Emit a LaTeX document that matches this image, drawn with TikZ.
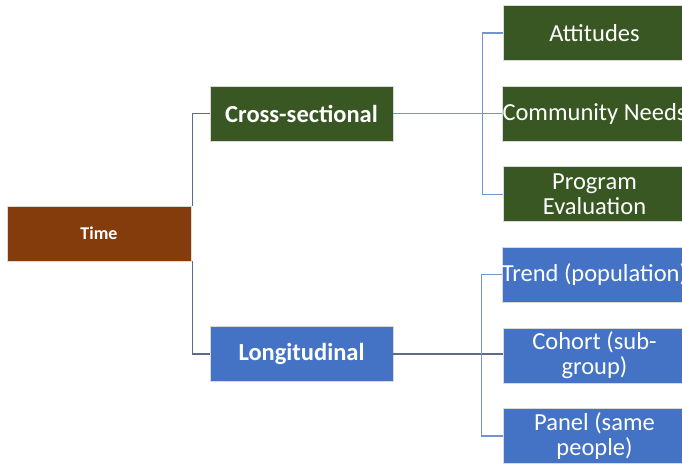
\documentclass[tikz,border=0pt]{standalone}
\usepackage{fontspec}
\setmainfont{Carlito}
\usetikzlibrary{positioning}
\definecolor{timebrown}{HTML}{843C0C}
\definecolor{crossgreen}{HTML}{385723}
\definecolor{longblue}{HTML}{4472C4}
\definecolor{linegrey}{HTML}{5C6B86}
\definecolor{lineblue}{HTML}{7394CF}

\begin{document}
\begin{tikzpicture}[x=1pt, y=-1pt]
      \tikzstyle{base}=[rectangle, inner sep=0pt, minimum height=55pt, text=white, draw=white!85!black, line width=0.6pt, align=center]
      \tikzstyle{root}=[base, fill=timebrown, minimum width=184pt, font=\fontsize{18}{20}\selectfont\bfseries]
      \tikzstyle{branch}=[base, minimum width=183pt, font=\fontsize{24.5}{27}\selectfont\bfseries]
      \tikzstyle{leaf}=[base, minimum width=183pt, font=\fontsize{24.5}{25}\selectfont, node distance=25pt]
      \tikzstyle{connect}=[line width=1.2pt]

      \useasboundingbox (0,0) rectangle (682,463);
      \clip (0,0) rectangle (682,463);

      \node[root] (time) at (99,233.5) {Time};
      \node[branch, fill=crossgreen] (cross) at (301.5,113.5) {Cross-sectional};
      \node[branch, fill=longblue] (long) at (301.5,354) {Longitudinal};

      \node[leaf, fill=crossgreen] (att) at (594.5,33) {Attitudes};
      \node[leaf, fill=crossgreen] (comm) [below=of att] {Community Needs};
      \node[leaf, fill=crossgreen] (prog) [below=of comm] {Program\\Evaluation};
      \node[leaf, fill=longblue] (trend) [below=of prog] {Trend (population)};
      \node[leaf, fill=longblue] (cohort) [below=of trend] {Cohort (sub-\\group)};
      \node[leaf, fill=longblue] (panel) [below=of cohort] {Panel (same\\people)};

      \draw[connect, linegrey] (cross.west) -| ([xshift=1pt]time.north east);
      \draw[connect, linegrey] (long.west) -| ([xshift=1pt]time.south east);

      \draw[connect, lineblue] (cross.east) -- (cross.east -| comm.west);
      \draw[connect, lineblue] (att.west) -- ++(-20,0) |- (prog.west);
      \draw[connect, linegrey] (long.east) -- (long.east -| cohort.west);
      \draw[connect, lineblue] (trend.west) -- ++(-20,0) |- (panel.west);
    \end{tikzpicture}
\end{document}
